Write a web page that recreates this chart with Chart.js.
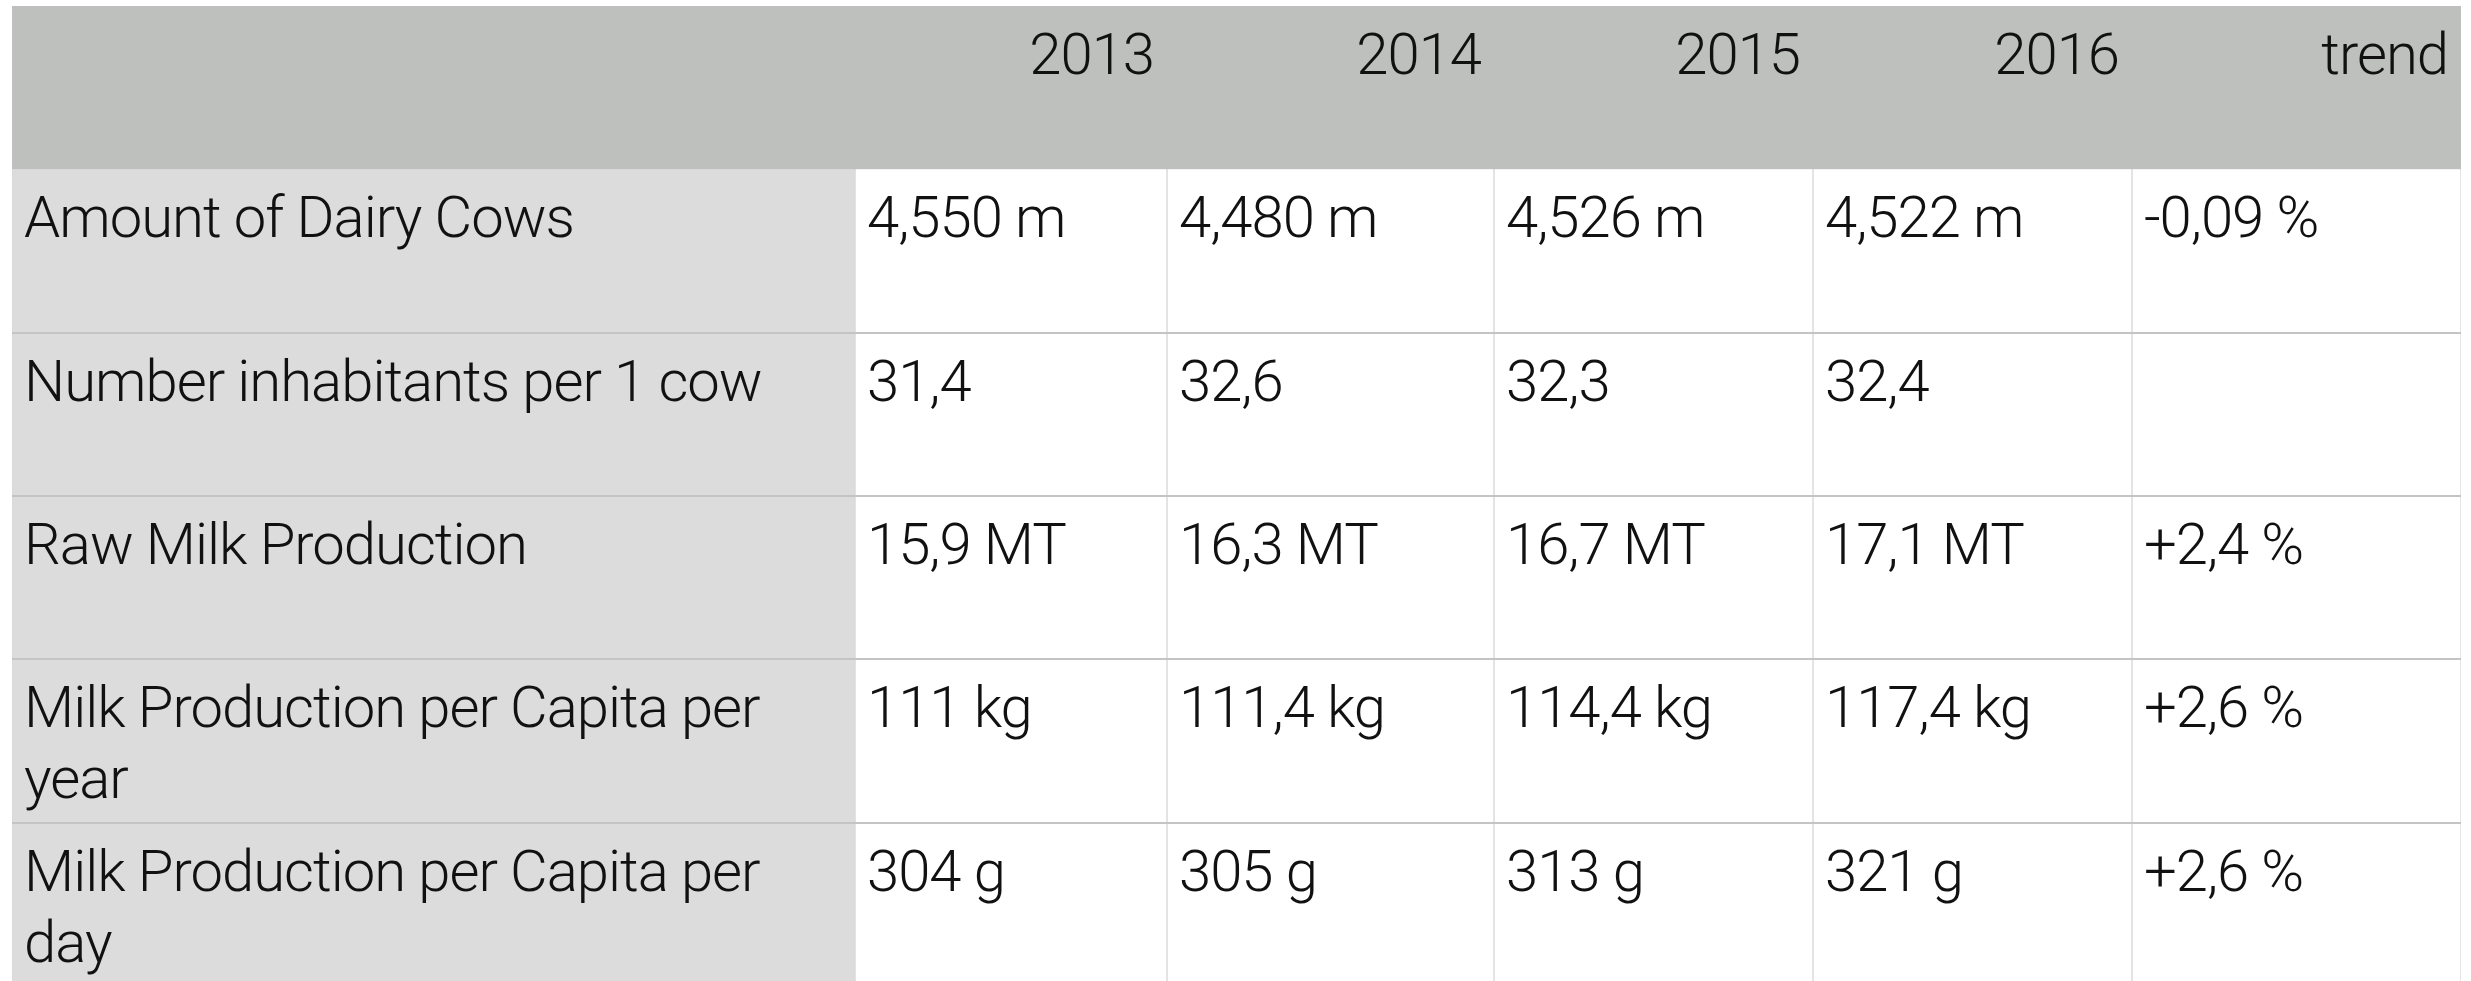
<!DOCTYPE html>
<html>
<head>
<meta charset="utf-8">
<script src="https://cdn.jsdelivr.net/npm/chart.js@4/dist/chart.umd.min.js"></script>
<style>
  html, body { margin: 0; padding: 0; background: #ffffff; overflow: hidden; }
  #wrap { width: 2471px; height: 1000px; }
</style>
</head>
<body>
<div id="wrap"><canvas id="c" width="2471" height="1000"></canvas></div>
<script>
// ---------------- DATA ----------------
const years = ['2013', '2014', '2015', '2016'];
const trendHeader = 'trend';
const rowLabels = [
  'Amount of Dairy Cows',
  'Number inhabitants per 1 cow',
  'Raw Milk Production',
  'Milk Production per Capita per year',
  'Milk Production per Capita per day'
];
const dairyCows      = [4.550, 4.480, 4.526, 4.522];   // million
const inhabPerCow    = [31.4, 32.6, 32.3, 32.4];
const rawMilk        = [15.9, 16.3, 16.7, 17.1];       // MT
const perCapitaYear  = [111, 111.4, 114.4, 117.4];     // kg
const perCapitaDay   = [304, 305, 313, 321];           // g
const trends         = [-0.09, null, 2.4, 2.6, 2.6];   // %
const units          = [' m', '', ' MT', ' kg', ' g'];

// ---------------- LAYOUT / STYLE ----------------
const COL_W = [843, 312, 327, 319, 319, 329];
const HEADER_BG = '#bec0be';
const FIRST_BG = '#dcdcdc';
const CELL_BG = '#ffffff';
const VLINE = '#d8d8d8';
const HLINE = '#c4c4c4';
const FONT = '300 58px Roboto, "Helvetica Neue", Lato, sans-serif';
const PAD = 12;
const BASELINE = 68;
const LINE_H = 71;

// formatting helpers
const fmtRules = [[3,3],[1,1],[1,1],[0,1],[0,0]];
function fmt(v, mn, mx) {
  let s = v.toFixed(mx);
  if (mn < mx && s.indexOf('.') >= 0) {
    s = s.replace(/0+$/, '');
    if (s.endsWith('.')) s = s.slice(0, -1);
    const d = s.indexOf('.') >= 0 ? s.length - s.indexOf('.') - 1 : 0;
    if (d < mn) s = v.toFixed(mn);
  }
  return s.replace('.', ',');
}
function fmtTrend(v) {
  if (v === null) return '';
  const s = fmt(Math.abs(v), 1, 2);
  return (v < 0 ? '-' : '+') + s + ' %';
}

const valueRows = [dairyCows, inhabPerCow, rawMilk, perCapitaYear, perCapitaDay];

// Table text grid: row 0 is the header
const cellText = [['', ...years, trendHeader]];
rowLabels.forEach((lab, r) => {
  const [mn, mx] = fmtRules[r];
  cellText.push([lab, ...valueRows[r].map(v => fmt(v, mn, mx) + units[r]), fmtTrend(trends[r])]);
});

const edges = [0];
COL_W.forEach(w => edges.push(edges[edges.length - 1] + w));
const yCats = ['header', ...rowLabels];

const datasets = COL_W.map((w, c) => ({
  label: 'col' + c,
  data: yCats.map(() => [edges[c], edges[c + 1]]),
  backgroundColor: yCats.map((_, r) => r === 0 ? HEADER_BG : (c === 0 ? FIRST_BG : CELL_BG)),
  borderColor: VLINE,
  borderWidth: (ctx) => ctx.dataIndex === 0 ? 0 : { left: 1, right: 1, top: 0, bottom: 0 },
  borderSkipped: false,
  grouped: false,
  barPercentage: 1,
  categoryPercentage: 1
}));

function wrapLines(ctx, text, maxW) {
  const words = text.split(' ');
  const lines = [];
  let cur = '';
  words.forEach(w => {
    const t = cur ? cur + ' ' + w : w;
    if (ctx.measureText(t).width > maxW && cur) { lines.push(cur); cur = w; }
    else cur = t;
  });
  if (cur) lines.push(cur);
  return lines;
}

const textPlugin = {
  id: 'cellText',
  afterDraw(chart) {
    const { ctx, scales: { x, y } } = chart;
    const band = y.getPixelForValue(1) - y.getPixelForValue(0);
    ctx.save();
    ctx.font = FONT;
    if ('letterSpacing' in ctx) ctx.letterSpacing = '-1px';
    ctx.fillStyle = '#111111';
    ctx.textBaseline = 'alphabetic';
    cellText.forEach((row, r) => {
      const top = y.getPixelForValue(r) - band / 2;
      row.forEach((txt, c) => {
        if (!txt) return;
        const x0 = x.getPixelForValue(edges[c]);
        const x1 = x.getPixelForValue(edges[c + 1]);
        if (r === 0) {
          ctx.textAlign = 'right';
          ctx.fillText(txt, x1 - PAD - 1, top + BASELINE);
        } else {
          ctx.textAlign = 'left';
          const lines = wrapLines(ctx, txt, x1 - x0 - 2 * PAD);
          lines.forEach((ln, i) => ctx.fillText(ln, x0 + PAD, top + BASELINE + i * LINE_H));
        }
      });
    });
    ctx.restore();
  }
};

new Chart(document.getElementById('c'), {
  type: 'bar',
  data: { labels: yCats, datasets },
  options: {
    indexAxis: 'y',
    responsive: false,
    animation: false,
    devicePixelRatio: 1,
    layout: { padding: { left: 12, right: 10, top: 6, bottom: 14 } },
    plugins: { legend: { display: false }, tooltip: { enabled: false }, title: { display: false } },
    scales: {
      x: { type: 'linear', min: 0, max: edges[edges.length - 1], display: false },
      y: {
        type: 'category',
        display: true,
        ticks: { display: false },
        border: { display: false },
        grid: {
          z: 1,
          offset: true,
          drawTicks: false,
          lineWidth: 2,
          color: (ctx) => ctx.index <= 1 ? 'rgba(0,0,0,0)' : HLINE
        }
      }
    }
  },
  plugins: [textPlugin]
});
</script>
</body>
</html>
